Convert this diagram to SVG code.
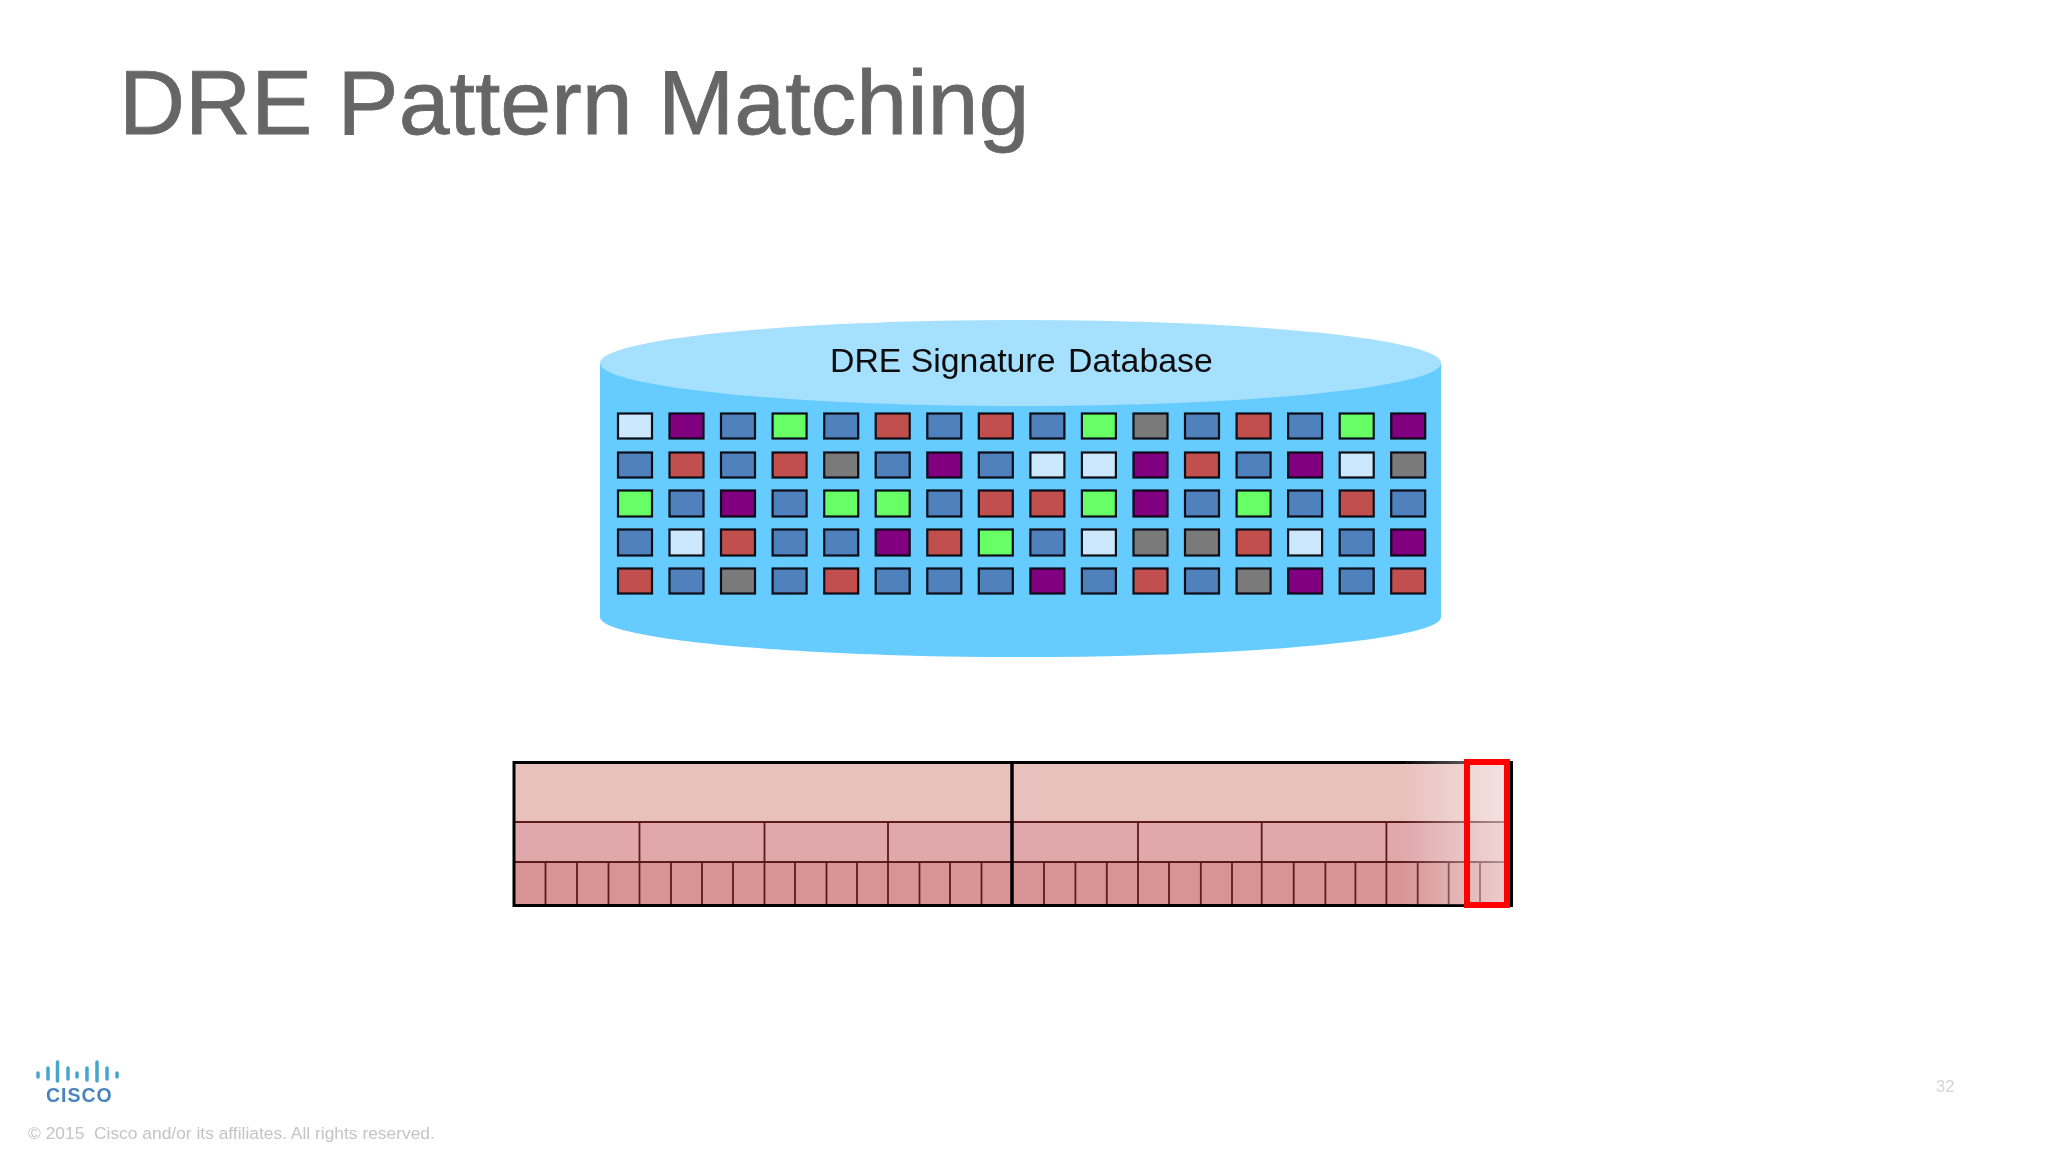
<svg xmlns="http://www.w3.org/2000/svg" width="2048" height="1152" viewBox="0 0 2048 1152">
<defs>
<linearGradient id="fade" gradientUnits="userSpaceOnUse" x1="1400" y1="0" x2="1512" y2="0">
<stop offset="0" stop-color="#fff" stop-opacity="0"/><stop offset="0.55" stop-color="#fff" stop-opacity="0.32"/><stop offset="1" stop-color="#fff" stop-opacity="0.55"/>
</linearGradient>
<filter id="soft" x="0" y="0" width="100%" height="100%"><feGaussianBlur stdDeviation="0.55"/></filter>
</defs>
<style>
text{font-family:"Liberation Sans",Arial,sans-serif}
.c{stroke:#0a0a14;stroke-width:2.2}
.B{fill:#4f81bd}.R{fill:#c0504d}.G{fill:#66ff66}.P{fill:#800080}.W{fill:#cce8ff}.Y{fill:#7a7a7a}
.l1{stroke:#5a1a1a;stroke-width:1.8;fill:none}
</style>
<rect width="2048" height="1152" fill="#fff"/>
<g filter="url(#soft)">
<text x="119" y="134" font-size="91.5" fill="#666" stroke="#666" stroke-width="0.8">DRE Pattern Matching</text>
<g id="database">
<path d="M600 363V617C600 639 788 657 1020.500 657S1441 639 1441 617V363Z" fill="#66ccff"/>
<ellipse cx="1020.500" cy="363" rx="420.500" ry="43" fill="#a6e0ff"/>
<text x="830" y="372" font-size="33.8" fill="#0a0a0a">DRE Signature</text>
<text x="1068" y="372" font-size="33.8" fill="#0a0a0a">Database</text>
</g>
<g id="signatures">
<g transform="translate(618,413.500)">
<rect class="c W" x="0" width="34" height="25"/><rect class="c P" x="51.500" width="34" height="25"/><rect class="c B" x="103" width="34" height="25"/><rect class="c G" x="154.600" width="34" height="25"/><rect class="c B" x="206.200" width="34" height="25"/><rect class="c R" x="257.700" width="34" height="25"/><rect class="c B" x="309.300" width="34" height="25"/><rect class="c R" x="360.800" width="34" height="25"/><rect class="c B" x="412.400" width="34" height="25"/><rect class="c G" x="463.900" width="34" height="25"/><rect class="c Y" x="515.500" width="34" height="25"/><rect class="c B" x="567" width="34" height="25"/><rect class="c R" x="618.600" width="34" height="25"/><rect class="c B" x="670.100" width="34" height="25"/><rect class="c G" x="721.700" width="34" height="25"/><rect class="c P" x="773.200" width="34" height="25"/>
</g>
<g transform="translate(618,452.500)">
<rect class="c B" x="0" width="34" height="25"/><rect class="c R" x="51.500" width="34" height="25"/><rect class="c B" x="103" width="34" height="25"/><rect class="c R" x="154.600" width="34" height="25"/><rect class="c Y" x="206.200" width="34" height="25"/><rect class="c B" x="257.700" width="34" height="25"/><rect class="c P" x="309.300" width="34" height="25"/><rect class="c B" x="360.800" width="34" height="25"/><rect class="c W" x="412.400" width="34" height="25"/><rect class="c W" x="463.900" width="34" height="25"/><rect class="c P" x="515.500" width="34" height="25"/><rect class="c R" x="567" width="34" height="25"/><rect class="c B" x="618.600" width="34" height="25"/><rect class="c P" x="670.100" width="34" height="25"/><rect class="c W" x="721.700" width="34" height="25"/><rect class="c Y" x="773.200" width="34" height="25"/>
</g>
<g transform="translate(618,490.500)">
<rect class="c G" x="0" width="34" height="26"/><rect class="c B" x="51.500" width="34" height="26"/><rect class="c P" x="103" width="34" height="26"/><rect class="c B" x="154.600" width="34" height="26"/><rect class="c G" x="206.200" width="34" height="26"/><rect class="c G" x="257.700" width="34" height="26"/><rect class="c B" x="309.300" width="34" height="26"/><rect class="c R" x="360.800" width="34" height="26"/><rect class="c R" x="412.400" width="34" height="26"/><rect class="c G" x="463.900" width="34" height="26"/><rect class="c P" x="515.500" width="34" height="26"/><rect class="c B" x="567" width="34" height="26"/><rect class="c G" x="618.600" width="34" height="26"/><rect class="c B" x="670.100" width="34" height="26"/><rect class="c R" x="721.700" width="34" height="26"/><rect class="c B" x="773.200" width="34" height="26"/>
</g>
<g transform="translate(618,529.500)">
<rect class="c B" x="0" width="34" height="26"/><rect class="c W" x="51.500" width="34" height="26"/><rect class="c R" x="103" width="34" height="26"/><rect class="c B" x="154.600" width="34" height="26"/><rect class="c B" x="206.200" width="34" height="26"/><rect class="c P" x="257.700" width="34" height="26"/><rect class="c R" x="309.300" width="34" height="26"/><rect class="c G" x="360.800" width="34" height="26"/><rect class="c B" x="412.400" width="34" height="26"/><rect class="c W" x="463.900" width="34" height="26"/><rect class="c Y" x="515.500" width="34" height="26"/><rect class="c Y" x="567" width="34" height="26"/><rect class="c R" x="618.600" width="34" height="26"/><rect class="c W" x="670.100" width="34" height="26"/><rect class="c B" x="721.700" width="34" height="26"/><rect class="c P" x="773.200" width="34" height="26"/>
</g>
<g transform="translate(618,568.500)">
<rect class="c R" x="0" width="34" height="25"/><rect class="c B" x="51.500" width="34" height="25"/><rect class="c Y" x="103" width="34" height="25"/><rect class="c B" x="154.600" width="34" height="25"/><rect class="c R" x="206.200" width="34" height="25"/><rect class="c B" x="257.700" width="34" height="25"/><rect class="c B" x="309.300" width="34" height="25"/><rect class="c B" x="360.800" width="34" height="25"/><rect class="c P" x="412.400" width="34" height="25"/><rect class="c B" x="463.900" width="34" height="25"/><rect class="c R" x="515.500" width="34" height="25"/><rect class="c B" x="567" width="34" height="25"/><rect class="c Y" x="618.600" width="34" height="25"/><rect class="c P" x="670.100" width="34" height="25"/><rect class="c B" x="721.700" width="34" height="25"/><rect class="c R" x="773.200" width="34" height="25"/>
</g>
</g>
<g id="buffer">
<rect x="514" y="762" width="997" height="60" fill="#e8c0bc"/>
<rect x="514" y="822" width="997" height="40" fill="#e0a8aa"/>
<rect x="514" y="862" width="997" height="44" fill="#d89494"/>
<path class="l1" d="M514 822H1511M514 862H1511"/>
<path class="l1" d="M639.500 822V905M764.500 822V905M888 822V905M1138 822V905M1261.700 822V905M1386.400 822V905"/>
<path class="l1" d="M545.500 862V905M577 862V905M608.500 862V905M671 862V905M702 862V905M733 862V905M795 862V905M826.500 862V905M857 862V905M919.500 862V905M950 862V905M981.500 862V905M1044 862V905M1075.400 862V905M1106.800 862V905M1169 862V905M1200.800 862V905M1232 862V905M1293.700 862V905M1325.400 862V905M1355.400 862V905M1417.700 862V905M1448.700 862V905M1480 862V905"/>
<path d="M513 762.500H1512M513 905.500H1512M514 761V907M1511.500 761V907" stroke="#000" stroke-width="3" fill="none"/>
<path d="M1012 762V906" stroke="#000" stroke-width="3.500"/>
<rect x="1400" y="760.500" width="109.500" height="144" fill="url(#fade)"/>
<rect x="1467" y="762" width="40" height="143" fill="none" stroke="#ff0000" stroke-width="6"/>
</g>
<g id="logo">
<path d="M38 1073V1077M48 1068V1079M57.500 1062V1081M68 1068V1079M77 1073V1077M87 1068V1080M97 1062V1081M107 1068V1079M117 1073V1077" stroke="#45a5cf" stroke-width="3.500" stroke-linecap="round" fill="none"/>
<text x="46" y="1102" font-size="19.500" font-weight="700" letter-spacing="1" fill="#4a84c0">CISCO</text>
</g>
<text x="28" y="1139" font-size="17.400" fill="#c4c4c4" xml:space="preserve">© 2015  Cisco and/or its affiliates. All rights reserved.</text>
<text x="1936" y="1092" font-size="16.500" fill="#d4d4d4">32</text>
</g>
</svg>
